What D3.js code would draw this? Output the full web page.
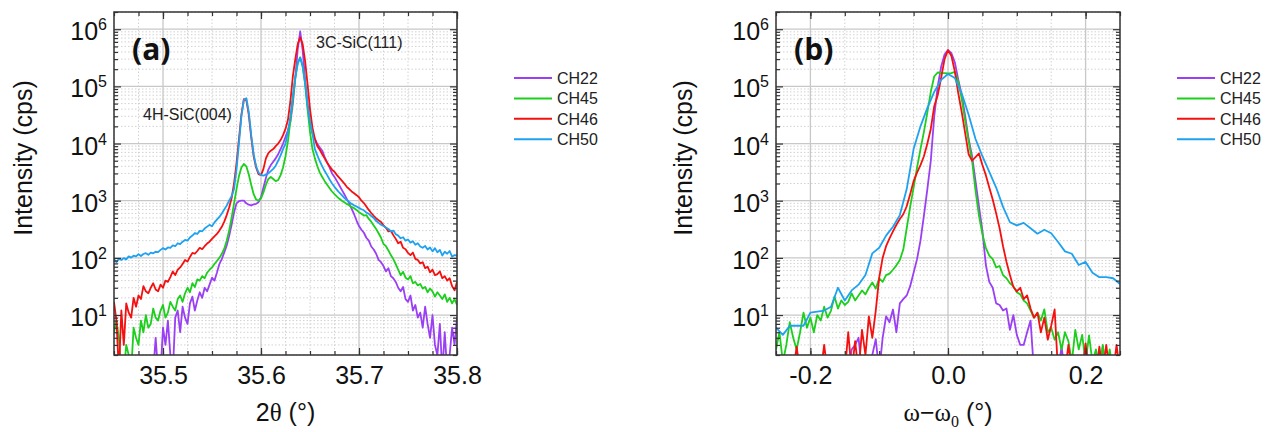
<!DOCTYPE html>
<html>
<head>
<meta charset="utf-8">
<script src="https://cdn.jsdelivr.net/npm/d3@7"></script>
<style>
  body { margin: 0; background: #fff; }
  svg text { font-family: "Liberation Sans", Arial, sans-serif; fill: #111; }
  .grid-major line { stroke: #c8c8c8; stroke-width: 1.3; }
  .grid-minor line { stroke: #d2d2d2; stroke-width: 1; stroke-dasharray: 1.5,2; }
  .ax path { display: none; }
  .ax line { stroke: #333; stroke-width: 1.2; }
</style>
</head>
<body>
<svg id="chart" width="1270" height="432"></svg>
<script>
// ---- data ----
var seriesNames = ['CH22', 'CH45', 'CH46', 'CH50'];
var seriesColors = ['#9b3ff5', '#1ccf1c', '#f51010', '#1ea2f0'];

// (a) 2theta scan, 35.45 .. 35.80 step 0.0025
var twoTheta = d3.range(141).map(function(i) { return 35.45 + i * 0.0025; });
var xrdCH22 = [1,1,1,1,1,1,1,1,1,1, 1,1,1,1,1,1,1,4,1,1,
  6,3,8,2,1,9,12,5,14,9, 7,16,21,12,18,25,20,30,26,34,
  45,40,55,78,95,125,165,240,380,620, 900,980,1000,1000,900,850,830,860,880,950,
  1150,1700,2500,3500,4200,4800,5500,6500,8000,10000, 13000,17000,24000,50000,140000,450000,920000,430000,130000,50000,
  23000,15000,12000,9800,8500,7500,5800,4700,3800,3000, 2600,2200,1850,1550,1300,1080,900,720,580,450,
  360,310,275,225,200,158,140,118,92,84, 72,58,66,48,44,38,30,26,31,19,
  17,22,12,15,9,11,6,14,7,4, 10,3,2,7,1,5,1,2,6,3, 9];
var xrdCH45 = [5,8,4,1,1,3,2,1,6,4, 3,8,5,10,6,7,13,9,8,12,
  15,9,11,17,14,12,19,22,17,24, 30,25,36,31,42,40,48,44,55,62,
  68,78,88,100,118,145,200,300,500,900, 1600,2700,3800,4400,4000,2900,1900,1300,1050,1000,
  1100,1400,1900,2400,2600,2400,2200,2300,2800,3800, 6000,11000,25000,60000,140000,260000,320000,220000,110000,40000,
  16000,8000,5500,4000,3100,2600,2200,1900,1650,1450, 1300,1180,1080,1000,940,880,830,770,740,690,
  630,590,550,560,480,430,370,320,270,225, 175,160,135,112,95,78,62,50,57,45,
  42,48,36,38,33,35,29,31,25,29, 26,21,25,22,19,23,17,20,16,19, 15];
var xrdCH46 = [17,8,1,12,3,16,11,9,20,14, 22,19,32,26,24,30,36,28,26,34,
  30,40,38,46,58,50,62,68,78,92, 86,104,122,118,132,150,142,160,178,192,
  215,238,262,300,350,430,560,760,1100,2000, 4500,12000,32000,60000,58000,32000,13000,6000,3800,2900,
  2800,3600,5500,6800,7500,8000,9000,10000,11500,14000, 18000,26000,55000,150000,300000,550000,720000,550000,280000,110000,
  40000,19000,12000,9000,7800,6500,5500,4600,4000,3500, 3200,2800,2500,2250,2000,1750,1600,1450,1350,1250,
  1150,1000,910,790,690,610,545,490,455,425, 370,335,290,298,250,215,180,192,150,142,
  122,112,124,96,92,80,84,66,70,56, 62,50,52,58,44,48,40,44,32,27, 38];
var xrdCH50 = [95,84,96,92,99,94,106,101,109,106, 116,108,117,121,113,124,120,128,126,138,
  148,140,152,150,166,160,180,174,192,206, 200,228,246,272,262,296,292,326,352,378,
  356,418,468,520,600,700,820,1000,1200,1600, 3500,10000,30000,58000,62000,36000,14000,6500,4000,3100,
  2800,2750,2850,3000,3300,3600,4100,5000,6200,8000, 10000,16000,30000,70000,145000,250000,320000,230000,115000,45000,
  24000,15000,8000,6200,4900,4000,3300,2800,2350,2000, 1750,1550,1380,1250,1120,1030,950,880,830,790,
  750,710,680,620,590,540,500,440,410,380, 360,340,320,290,300,260,245,220,230,200,
  210,185,195,170,180,158,150,162,140,152, 130,148,125,138,110,128,118,132,105,112, 110];

// (b) rocking curves, omega - omega0 from -0.25 to 0.25
var omega = d3.range(101).map(function(i) { return -0.25 + i * 0.005; });
var omegaCoarse = d3.range(51).map(function(i) { return -0.25 + i * 0.01; });
var rcCH22 = [1,1,1,1,1,1,1,1,1,1, 1,1,1,1,1,1,1,1,1,1,
  1,1,2.5,3,4,1,1,1,2,3.8, 1,4,9.5,7.5,12.5,5,16,19,22,32,
  55,95,200,550,1600,5000,30000,100000,220000,360000, 430000,380000,260000,130000,70000,30000,12000,6000,2200,800,
  300,75,38,30,16,15,12,13,5.5,10, 4.5,3,3,5,8,1,1,1,1,1,
  1,1,1,2.8,1,1,1,1,1,1, 2.8,1,1,1,1,2.8,1,1,1,1, 1];
var rcCH45 = [2.5,5,1.5,3,7.5,4,2.5,5,11,6, 9,5,10,8,14,9,12,21,13,18,
  15,17,24,18,22,27,23,30,37,29, 44,38,50,53,62,74,92,140,330,780,
  1700,3800,8000,16000,35000,80000,150000,175000,172000,170000, 168000,170000,180000,120000,60000,25000,11000,5000,1500,550,
  260,150,110,95,68,72,50,44,36,32, 25,23,18,16,12,9,11,8,12.6,5,
  6,3.7,5,2.5,5,3.5,1.5,5.5,2.5,4.5, 1.5,4.4,1.5,2.5,1,3,1,2.5,1,1, 1];
var rcCH46 = [1,1,1,1,1,1,2.8,1,1,1, 1,1,1,1,3,1,1,1,1,1,
  1,5,1,3.5,1,5.5,2,9.5,4,12, 45,100,160,220,290,380,480,580,800,1300,
  2200,3100,4200,6000,10000,18000,45000,70000,140000,300000, 430000,340000,180000,75000,35000,15000,6500,5000,5800,6700,
  4200,2800,1700,1050,600,330,160,85,50,31, 26,30,19,22,13,9,11,5,9,3.7,
  6.5,12.5,1,1,1,3,1,1,1,1, 3.2,1,1,1,2.8,1,3,1,1,3, 1];
var rcCH50 = [6,4.5,6.5,6.5,6.5,11,11.5,12,14,30,
  18,27,34,50,120,150,245,350,560,1600,
  8000,20000,42000,80000,130000,165000,140000,75000,32000,12000,
  6000,3200,1700,780,420,370,410,330,265,310,
  270,190,130,118,75,85,55,46,46,44, 35];

var xTicksA = [35.5, 35.6, 35.7, 35.8];
var xTicksB = [-0.2, 0.0, 0.2];
var yTicks = [1e1, 1e2, 1e3, 1e4, 1e5, 1e6];

// ---- layout ----
var plot_top = 12, plot_bottom = 355;
var svg = d3.select('#chart');

var yScale = d3.scaleLog().domain([2, 2e6]).range([plot_bottom, plot_top]);
var yMinor = yScale.ticks().filter(function(v) {
  var l = Math.log10(v); return Math.abs(l - Math.round(l)) > 1e-6;
});

function drawPanel(p) {
  var xScale = d3.scaleLinear().domain(p.xDomain).range([p.left, p.right]);
  var g = svg.append('g');

  // grid
  g.append('g').attr('class', 'grid-minor')
    .selectAll('line').data(p.xMinor.filter(function(v) {
      return !p.xTicks.some(function(t) { return Math.abs(t - v) < 1e-9; });
    })).enter().append('line')
    .attr('x1', function(d) { return xScale(d); }).attr('x2', function(d) { return xScale(d); })
    .attr('y1', plot_top).attr('y2', plot_bottom);
  g.append('g').attr('class', 'grid-minor')
    .selectAll('line').data(yMinor).enter().append('line')
    .attr('x1', p.left).attr('x2', p.right)
    .attr('y1', function(d) { return yScale(d); }).attr('y2', function(d) { return yScale(d); });
  g.append('g').attr('class', 'grid-major')
    .selectAll('line').data(p.xTicks).enter().append('line')
    .attr('x1', function(d) { return xScale(d); }).attr('x2', function(d) { return xScale(d); })
    .attr('y1', plot_top).attr('y2', plot_bottom);
  g.append('g').attr('class', 'grid-major')
    .selectAll('line').data(yTicks).enter().append('line')
    .attr('x1', p.left).attr('x2', p.right)
    .attr('y1', function(d) { return yScale(d); }).attr('y2', function(d) { return yScale(d); });

  // curves
  svg.append('clipPath').attr('id', 'clip-' + p.name)
    .append('rect').attr('x', p.left).attr('y', plot_top)
    .attr('width', p.right - p.left).attr('height', plot_bottom - plot_top);

  var line = d3.line()
    .x(function(d) { return xScale(d[0]); })
    .y(function(d) { return yScale(d[1]); });

  var curves = g.append('g').attr('clip-path', 'url(#clip-' + p.name + ')');
  p.series.forEach(function(s, i) {
    curves.append('path')
      .datum(d3.zip(s.x, s.y))
      .attr('fill', 'none')
      .attr('stroke', seriesColors[i])
      .attr('stroke-width', 1.8)
      .attr('stroke-linejoin', 'round')
      .attr('d', line);
  });

  // axes, ticks pointing inward on all four sides
  g.append('g').attr('class', 'ax').attr('transform', 'translate(0,' + plot_bottom + ')')
    .call(d3.axisBottom(xScale).tickValues(p.xMinor).tickSize(-4).tickSizeOuter(0).tickFormat(''));
  var bx = g.append('g').attr('class', 'ax').attr('transform', 'translate(0,' + plot_bottom + ')')
    .call(d3.axisBottom(xScale).tickValues(p.xTicks).tickSize(-7).tickSizeOuter(0).tickPadding(11)
      .tickFormat(p.xFormat));
  bx.attr('font-size', 25).attr('font-family', null);
  g.append('g').attr('class', 'ax').attr('transform', 'translate(0,' + plot_top + ')')
    .call(d3.axisTop(xScale).tickValues(p.xMinor).tickSize(-4).tickSizeOuter(0).tickFormat(''));
  g.append('g').attr('class', 'ax').attr('transform', 'translate(0,' + plot_top + ')')
    .call(d3.axisTop(xScale).tickValues(p.xTicks).tickSize(-7).tickSizeOuter(0).tickFormat(''));

  g.append('g').attr('class', 'ax').attr('transform', 'translate(' + p.left + ',0)')
    .call(d3.axisLeft(yScale).tickValues(yMinor).tickSize(-4).tickSizeOuter(0).tickFormat(''));
  var ly = g.append('g').attr('class', 'ax').attr('transform', 'translate(' + p.left + ',0)')
    .call(d3.axisLeft(yScale).tickValues(yTicks).tickSize(-7).tickSizeOuter(0).tickPadding(7)
      .tickFormat(function() { return '10'; }));
  ly.attr('font-size', 25).attr('font-family', null);
  ly.selectAll('.tick text').attr('dy', '0.42em')
    .append('tspan').attr('dy', -10).attr('font-size', 16)
    .text(function(d) { return Math.round(Math.log10(d)); });
  g.append('g').attr('class', 'ax').attr('transform', 'translate(' + p.right + ',0)')
    .call(d3.axisRight(yScale).tickValues(yMinor).tickSize(-4).tickSizeOuter(0).tickFormat(''));
  g.append('g').attr('class', 'ax').attr('transform', 'translate(' + p.right + ',0)')
    .call(d3.axisRight(yScale).tickValues(yTicks).tickSize(-7).tickSizeOuter(0).tickFormat(''));

  g.append('rect')
    .attr('x', p.left).attr('y', plot_top)
    .attr('width', p.right - p.left).attr('height', plot_bottom - plot_top)
    .attr('fill', 'none').attr('stroke', '#333').attr('stroke-width', 1.5);

  // axis titles
  g.append('text')
    .attr('transform', 'translate(' + p.yTitleX + ',158) rotate(-90)')
    .attr('text-anchor', 'middle').attr('dy', '0.35em')
    .attr('font-size', 25)
    .text('Intensity (cps)');
  var xt = g.append('text')
    .attr('x', (p.left + p.right) / 2).attr('y', 421)
    .attr('text-anchor', 'middle').attr('font-size', 25);
  p.xTitle(xt);

  // panel label
  g.append('text')
    .attr('x', p.left + 18).attr('y', 60)
    .attr('font-size', 30).attr('font-weight', 'bold')
    .style('font-family', '"Open Sans", "DejaVu Sans", sans-serif')
    .text(p.label);

  // legend
  var leg = g.append('g');
  seriesNames.forEach(function(n, i) {
    var ly0 = 78 + i * 20.4;
    leg.append('line')
      .attr('x1', p.legendX).attr('x2', p.legendX + 38)
      .attr('y1', ly0).attr('y2', ly0)
      .attr('stroke', seriesColors[i]).attr('stroke-width', 2);
    leg.append('text')
      .attr('x', p.legendX + 43).attr('y', ly0).attr('dy', '0.36em')
      .attr('font-size', 16).style('fill', '#222')
      .text(n);
  });

  return g;
}

var panelA = drawPanel({
  name: 'a', left: 114, right: 457,
  xDomain: [35.45, 35.8],
  xTicks: xTicksA,
  xMinor: d3.range(15).map(function(i) { return 35.45 + i * 0.025; }),
  xFormat: d3.format('.1f'),
  series: [
    { x: twoTheta, y: xrdCH22 },
    { x: twoTheta, y: xrdCH45 },
    { x: twoTheta, y: xrdCH46 },
    { x: twoTheta, y: xrdCH50 }
  ],
  label: '(a)',
  yTitleX: 23,
  legendX: 514,
  xTitle: function(t) {
    t.append('tspan').text('2');
    t.append('tspan').style('font-family', '"Liberation Serif", "DejaVu Serif", serif').text('\u03b8');
    t.append('tspan').text(' (\u00b0)');
  }
});

panelA.append('text').attr('x', 316).attr('y', 48)
  .attr('font-size', 16).style('fill', '#222').text('3C-SiC(111)');
panelA.append('text').attr('x', 143).attr('y', 120)
  .attr('font-size', 16).style('fill', '#222').text('4H-SiC(004)');

drawPanel({
  name: 'b', left: 776, right: 1120,
  xDomain: [-0.25, 0.25],
  xTicks: xTicksB,
  xMinor: d3.range(11).map(function(i) { return -0.25 + i * 0.05; }),
  xFormat: function(d) { return d3.format('.1f')(d).replace('\u2212', '-'); },
  series: [
    { x: omega, y: rcCH22 },
    { x: omega, y: rcCH45 },
    { x: omega, y: rcCH46 },
    { x: omegaCoarse, y: rcCH50 }
  ],
  label: '(b)',
  yTitleX: 683,
  legendX: 1177,
  xTitle: function(t) {
    var serif = '"Liberation Serif", "DejaVu Serif", serif';
    t.append('tspan').style('font-family', serif).text('\u03c9');
    t.append('tspan').text('\u2212');
    t.append('tspan').style('font-family', serif).text('\u03c9');
    t.append('tspan').attr('dy', 6).attr('font-size', 16).style('font-family', serif).text('0');
    t.append('tspan').attr('dy', -6).text(' (\u00b0)');
  }
});
</script>
</body>
</html>
